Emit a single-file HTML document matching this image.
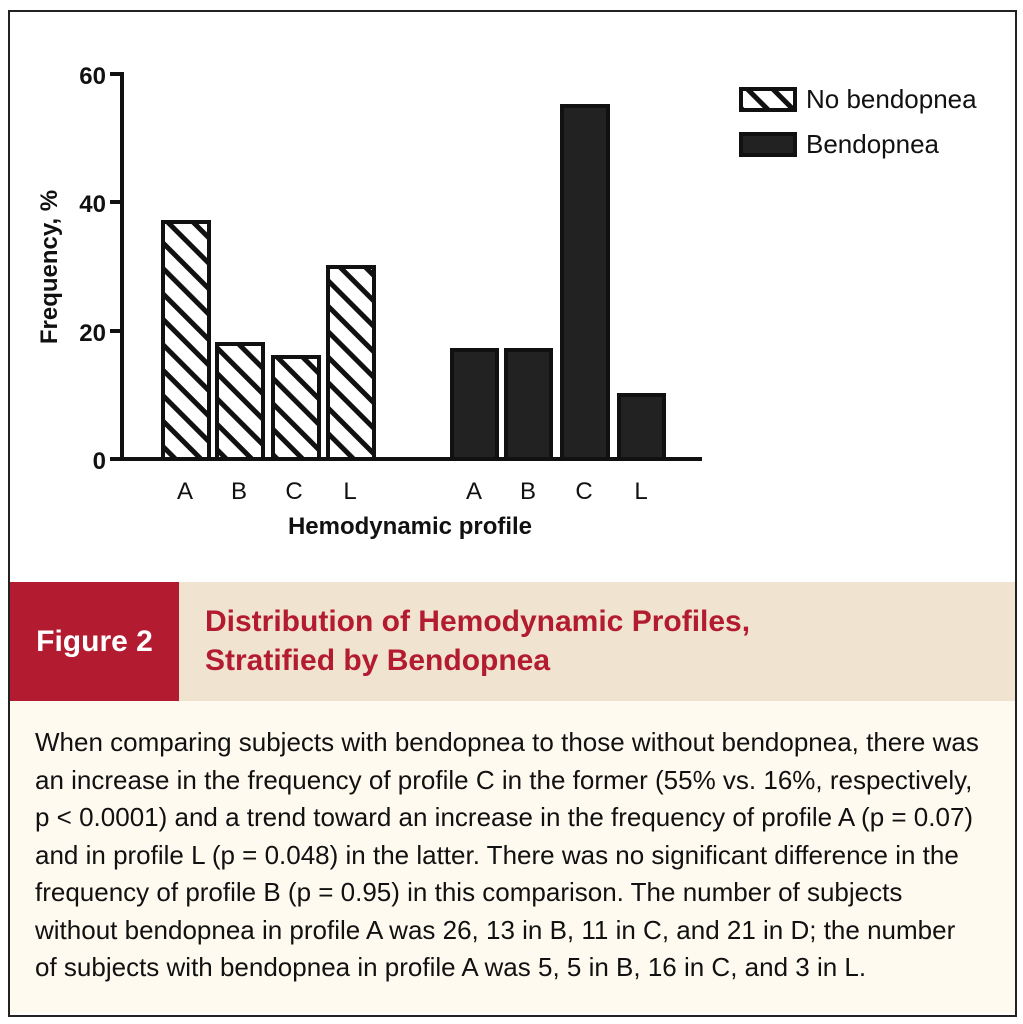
<!DOCTYPE html>
<html><head><style>
body{margin:0;width:1023px;height:1024px;background:#fff;position:relative;overflow:hidden;font-family:"Liberation Sans",sans-serif}
#frame{position:absolute;left:8px;top:10px;width:1005px;height:1003px;border:2px solid #222;}
#red{position:absolute;left:10px;top:582px;width:169px;height:119px;background:#b31b30;color:#fff;font-weight:bold;font-size:30px;line-height:119px;text-align:center}
#tan{position:absolute;left:179px;top:582px;width:836px;height:119px;background:#f0e3cf;color:#b31b30;font-weight:bold;font-size:30px;line-height:39px;box-sizing:border-box;padding:20px 0 0 26px}
#cap{position:absolute;left:10px;top:701px;width:1005px;height:312px;background:#fefaf0;font-size:26px;line-height:37.5px;color:#111;box-sizing:border-box;padding:23px 0 0 25px;white-space:nowrap}
</style></head><body>
<div id="frame"></div>
<svg width="1023" height="582" style="position:absolute;left:0;top:0">
<defs><pattern id="h" patternUnits="userSpaceOnUse" width="18" height="18" patternTransform="rotate(45)">
<rect width="18" height="18" fill="#fff"/><rect x="0" y="0" width="18" height="5" fill="#111"/></pattern></defs>
<g stroke="#111" stroke-width="4" fill="none">
<line x1="122" y1="72" x2="122" y2="461"/>
<line x1="120" y1="459" x2="702" y2="459"/>
<line x1="110" y1="74" x2="122" y2="74"/><line x1="110" y1="202" x2="122" y2="202"/><line x1="110" y1="331" x2="122" y2="331"/><line x1="110" y1="459" x2="122" y2="459"/>
</g>
<g stroke="#111" stroke-width="4" fill="url(#h)">
<rect x="163" y="222" width="46" height="237"/><rect x="217" y="344" width="46" height="115"/>
<rect x="273" y="357" width="46" height="102"/><rect x="328" y="267" width="46" height="192"/>
<rect x="741" y="89" width="54" height="21"/>
</g>
<g stroke="#111" stroke-width="4" fill="#222">
<rect x="452" y="350" width="45" height="109"/><rect x="506" y="350" width="45" height="109"/>
<rect x="562" y="106" width="46" height="353"/><rect x="619" y="395" width="45" height="64"/>
<rect x="741" y="134" width="54" height="21"/>
</g>
<g font-family="Liberation Sans" font-size="24" font-weight="bold" fill="#111" text-anchor="end">
<text x="106" y="84">60</text><text x="106" y="212">40</text><text x="106" y="341">20</text><text x="106" y="469">0</text>
</g>
<g font-family="Liberation Sans" font-size="24" fill="#111" text-anchor="middle">
<text x="185" y="499">A</text><text x="239" y="499">B</text><text x="294" y="499">C</text><text x="350" y="499">L</text>
<text x="474" y="499">A</text><text x="528" y="499">B</text><text x="584" y="499">C</text><text x="641" y="499">L</text>
<text x="410" y="534" font-weight="bold">Hemodynamic profile</text>
<text transform="translate(57,267) rotate(-90)" font-weight="bold">Frequency, %</text>
</g>
<g font-family="Liberation Sans" font-size="26" fill="#111">
<text x="806" y="108">No bendopnea</text><text x="806" y="153">Bendopnea</text>
</g>
</svg>
<div id="red">Figure 2</div>
<div id="tan">Distribution of Hemodynamic Profiles,<br>Stratified by Bendopnea</div>
<div id="cap">When comparing subjects with bendopnea to those without bendopnea, there was<br>an increase in the frequency of profile C in the former (55% vs. 16%, respectively,<br>p &lt; 0.0001) and a trend toward an increase in the frequency of profile A (p = 0.07)<br>and in profile L (p = 0.048) in the latter. There was no significant difference in the<br>frequency of profile B (p = 0.95) in this comparison. The number of subjects<br>without bendopnea in profile A was 26, 13 in B, 11 in C, and 21 in D; the number<br>of subjects with bendopnea in profile A was 5, 5 in B, 16 in C, and 3 in L.</div>
</body></html>
